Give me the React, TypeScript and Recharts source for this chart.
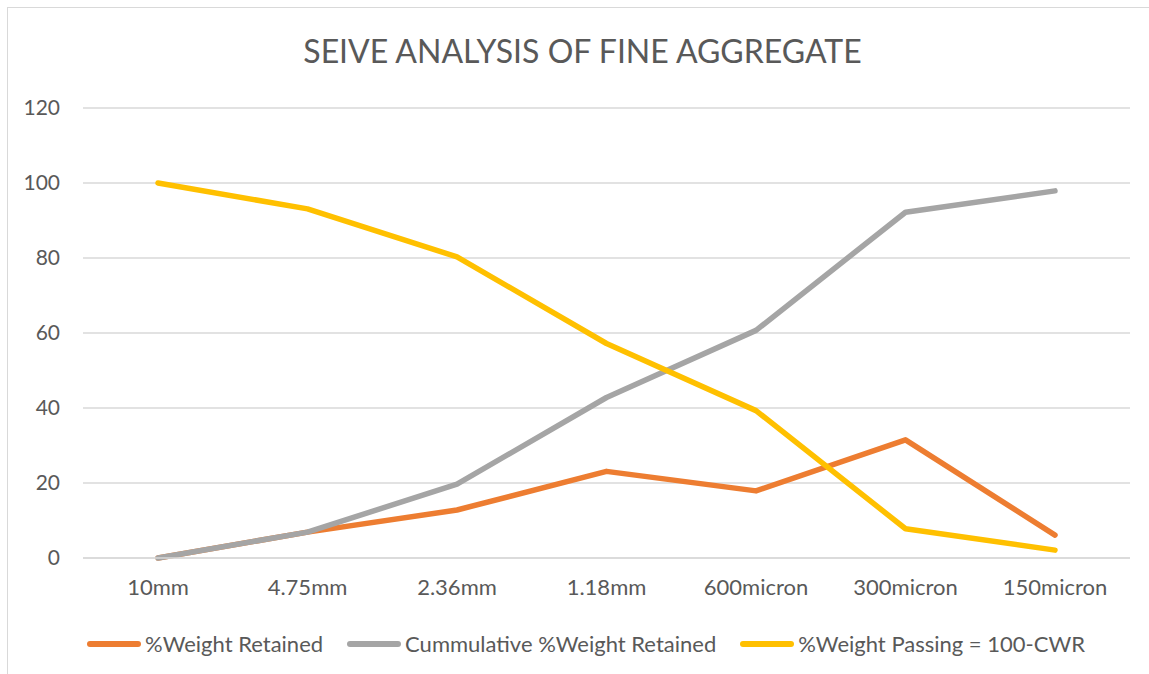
import React from 'react';
import {
  LineChart,
  Line,
  XAxis,
  YAxis,
  CartesianGrid,
  Legend,
} from 'recharts';

const categories = ['10mm', '4.75mm', '2.36mm', '1.18mm', '600micron', '300micron', '150micron'];
const retained = [0, 6.9, 12.8, 23.1, 17.9, 31.5, 6.1];
const cumulative = [0, 6.9, 19.7, 42.8, 60.7, 92.2, 97.9];
const passing = [100, 93.1, 80.3, 57.2, 39.3, 7.8, 2.1];
const yTicks = [0, 20, 40, 60, 80, 100, 120];
const seriesNames = ['%Weight Retained', 'Cummulative %Weight Retained', '%Weight Passing = 100-CWR'];

const data = categories.map((name, i) => ({
  name,
  retained: retained[i],
  cumulative: cumulative[i],
  passing: passing[i],
}));

const FONT = 'Lato, "Open Sans", sans-serif';
const TEXT = '#595959';

const renderLegend = (props: any) => {
  const payload = [...props.payload].sort(
    (a: any, b: any) => seriesNames.indexOf(a.value) - seriesNames.indexOf(b.value),
  );
  return (
    <div
      style={{
        display: 'flex',
        justifyContent: 'center',
        alignItems: 'center',
        fontFamily: FONT,
        paddingLeft: 42,
      }}
    >
      {payload.map((p: any) => (
        <div key={p.value} style={{ display: 'flex', alignItems: 'center', margin: '0 12px' }}>
          <span
            style={{
              display: 'inline-block',
              width: 54,
              height: 6,
              borderRadius: 3,
              background: p.color,
              marginRight: 4,
            }}
          />
          <span style={{ fontSize: 22, color: TEXT }}>{p.value}</span>
        </div>
      ))}
    </div>
  );
};

export default function App() {
  return (
    <div style={{ position: 'absolute', left: 0, top: 0, width: 1149, height: 674, background: '#fff' }}>
      {/* frame */}
      <div
        style={{
          position: 'absolute',
          left: 7,
          top: 7,
          width: 1160,
          height: 680,
          borderLeft: '1px solid #d9d9d9',
          borderTop: '1px solid #d9d9d9',
        }}
      />
      {/* title */}
      <div
        style={{
          position: 'absolute',
          left: 0,
          top: 31,
          width: 1165,
          textAlign: 'center',
          fontFamily: FONT,
          fontSize: 32,
          color: TEXT,
        }}
      >
        SEIVE ANALYSIS OF FINE AGGREGATE
      </div>

      <LineChart
        width={1149}
        height={674}
        data={data}
        margin={{ top: 108, right: 19, bottom: 14, left: 0 }}
        style={{ position: 'absolute', left: 0, top: 0 }}
      >
        <CartesianGrid vertical={false} stroke="#d9d9d9" strokeWidth={1.5} />
        <XAxis
          dataKey="name"
          height={72}
          padding={{ left: 75, right: 75 }}
          axisLine={{ stroke: '#d9d9d9', strokeWidth: 1.5 }}
          tickLine={false}
          tickSize={0}
          tickMargin={21}
          tick={{ fontSize: 22, fill: TEXT, fontFamily: FONT }}
        />
        <YAxis
          width={83}
          domain={[0, 120]}
          ticks={yTicks}
          axisLine={false}
          tickLine={false}
          tickSize={0}
          tickMargin={23}
          tick={{ fontSize: 21, fill: TEXT, fontFamily: FONT }}
        />
        <Legend verticalAlign="bottom" height={30} content={renderLegend} />
        <Line
          type="linear"
          dataKey="retained"
          name={seriesNames[0]}
          stroke="#ED7D31"
          strokeWidth={5.5}
          strokeLinecap="round"
          strokeLinejoin="round"
          dot={false}
          activeDot={false}
          isAnimationActive={false}
        />
        <Line
          type="linear"
          dataKey="cumulative"
          name={seriesNames[1]}
          stroke="#A5A5A5"
          strokeWidth={5.5}
          strokeLinecap="round"
          strokeLinejoin="round"
          dot={false}
          activeDot={false}
          isAnimationActive={false}
        />
        <Line
          type="linear"
          dataKey="passing"
          name={seriesNames[2]}
          stroke="#FFC000"
          strokeWidth={5.5}
          strokeLinecap="round"
          strokeLinejoin="round"
          dot={false}
          activeDot={false}
          isAnimationActive={false}
        />
      </LineChart>
    </div>
  );
}
